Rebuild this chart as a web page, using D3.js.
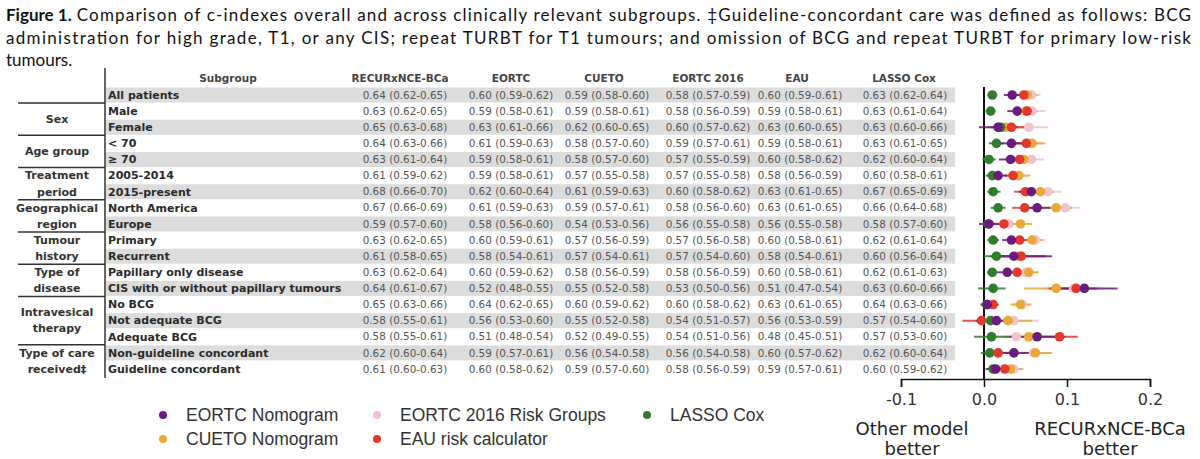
<!DOCTYPE html>
<html><head><meta charset="utf-8">
<script src="https://cdn.jsdelivr.net/npm/d3@7"></script>
<style>body{margin:0;background:#fff;} svg{display:block;}</style>
</head><body><svg id="chart" width="1200" height="459"></svg>
<script>
// ---------- DATA ----------
const titleBold = "Figure 1.";
const titleLines = [
  "Comparison of c-indexes overall and across clinically relevant subgroups. \u2021Guideline-concordant care was defined as follows: BCG",
  "administration for high grade, T1, or any CIS; repeat TURBT for T1 tumours; and omission of BCG and repeat TURBT for primary low-risk",
  "tumours."
];
const subgroups = ["All patients","Male","Female","< 70","\u2265 70","2005-2014","2015-present","North America","Europe","Primary","Recurrent","Papillary only disease","CIS with or without papillary tumours","No BCG","Not adequate BCG","Adequate BCG","Non-guideline concordant","Guideline concordant"];
const groupNames = ["", "Sex", "Age group", "Treatment|period", "Geographical|region", "Tumour|history", "Type of|disease", "Intravesical|therapy", "Type of care|received\u2021"];
const groupSizes = [1, 2, 2, 2, 2, 2, 2, 3, 2];
const tableHeaders = ["RECURxNCE-BCa","EORTC","CUETO","EORTC 2016","EAU","LASSO Cox"];

// c-index [estimate, lower, upper]
const cRecur = [[0.64,0.62,0.65],[0.63,0.62,0.65],[0.65,0.63,0.68],[0.64,0.63,0.66],[0.63,0.61,0.64],[0.61,0.59,0.62],[0.68,0.66,0.70],[0.67,0.66,0.69],[0.59,0.57,0.60],[0.63,0.62,0.65],[0.61,0.58,0.65],[0.63,0.62,0.64],[0.64,0.61,0.67],[0.65,0.63,0.66],[0.58,0.55,0.61],[0.58,0.55,0.61],[0.62,0.60,0.64],[0.61,0.60,0.63]];
const cEORTC = [[0.60,0.59,0.62],[0.59,0.58,0.61],[0.63,0.61,0.66],[0.61,0.59,0.63],[0.59,0.58,0.61],[0.59,0.58,0.61],[0.62,0.60,0.64],[0.61,0.59,0.63],[0.58,0.56,0.60],[0.60,0.59,0.61],[0.58,0.54,0.61],[0.60,0.59,0.62],[0.52,0.48,0.55],[0.64,0.62,0.65],[0.56,0.53,0.60],[0.51,0.48,0.54],[0.59,0.57,0.61],[0.60,0.58,0.62]];
const cCUETO = [[0.59,0.58,0.60],[0.59,0.58,0.61],[0.62,0.60,0.65],[0.58,0.57,0.60],[0.58,0.57,0.60],[0.57,0.55,0.58],[0.61,0.59,0.63],[0.59,0.57,0.61],[0.54,0.53,0.56],[0.57,0.56,0.59],[0.57,0.54,0.61],[0.58,0.56,0.59],[0.55,0.52,0.58],[0.60,0.59,0.62],[0.55,0.52,0.58],[0.52,0.49,0.55],[0.56,0.54,0.58],[0.59,0.57,0.60]];
const cEORTC2016 = [[0.58,0.57,0.59],[0.58,0.56,0.59],[0.60,0.57,0.62],[0.59,0.57,0.61],[0.57,0.55,0.59],[0.57,0.55,0.58],[0.60,0.58,0.62],[0.58,0.56,0.60],[0.56,0.55,0.58],[0.57,0.56,0.58],[0.57,0.54,0.60],[0.58,0.56,0.59],[0.53,0.50,0.56],[0.60,0.58,0.62],[0.54,0.51,0.57],[0.54,0.51,0.56],[0.56,0.54,0.58],[0.58,0.56,0.59]];
const cEAU = [[0.60,0.59,0.61],[0.59,0.58,0.61],[0.63,0.60,0.65],[0.59,0.58,0.61],[0.60,0.58,0.62],[0.58,0.56,0.59],[0.63,0.61,0.65],[0.63,0.61,0.65],[0.56,0.55,0.58],[0.60,0.58,0.61],[0.58,0.54,0.61],[0.60,0.58,0.61],[0.51,0.47,0.54],[0.63,0.61,0.65],[0.56,0.53,0.59],[0.48,0.45,0.51],[0.60,0.57,0.62],[0.59,0.57,0.61]];
const cLASSO = [[0.63,0.62,0.64],[0.63,0.61,0.64],[0.63,0.60,0.66],[0.63,0.61,0.65],[0.62,0.60,0.64],[0.60,0.58,0.61],[0.67,0.65,0.69],[0.66,0.64,0.68],[0.58,0.57,0.60],[0.62,0.61,0.64],[0.60,0.56,0.64],[0.62,0.61,0.63],[0.63,0.60,0.66],[0.64,0.63,0.66],[0.57,0.54,0.60],[0.57,0.53,0.60],[0.62,0.60,0.64],[0.60,0.59,0.62]];

// difference in c-index (RECURxNCE-BCa minus other model) [estimate, lower, upper]
const dEORTC = [[0.034,0.024,0.045],[0.040,0.028,0.052],[0.017,-0.006,0.040],[0.033,0.018,0.048],[0.032,0.018,0.046],[0.017,0.006,0.028],[0.057,0.042,0.072],[0.064,0.048,0.080],[0.006,-0.006,0.018],[0.033,0.022,0.044],[0.036,0.008,0.082],[0.028,0.016,0.040],[0.121,0.082,0.161],[0.004,-0.004,0.012],[0.015,-0.010,0.040],[0.064,0.030,0.098],[0.036,0.018,0.054],[0.014,0.002,0.026]];
const dCUETO = [[0.052,0.040,0.064],[0.050,0.038,0.062],[0.026,0.004,0.048],[0.058,0.044,0.074],[0.048,0.034,0.062],[0.042,0.030,0.056],[0.068,0.052,0.084],[0.087,0.068,0.106],[0.044,0.030,0.058],[0.058,0.046,0.070],[0.042,0.012,0.072],[0.054,0.040,0.066],[0.087,0.048,0.126],[0.044,0.032,0.056],[0.029,0.000,0.058],[0.054,0.024,0.084],[0.062,0.042,0.082],[0.032,0.018,0.046]];
const dEORTC2016 = [[0.057,0.046,0.068],[0.058,0.044,0.074],[0.054,0.030,0.077],[0.055,0.038,0.072],[0.057,0.042,0.072],[0.040,0.028,0.052],[0.077,0.060,0.094],[0.098,0.078,0.116],[0.030,0.018,0.042],[0.062,0.050,0.074],[0.044,0.014,0.074],[0.050,0.038,0.062],[0.108,0.072,0.144],[0.046,0.034,0.058],[0.036,0.006,0.066],[0.039,0.010,0.068],[0.060,0.040,0.080],[0.036,0.024,0.048]];
const dEAU = [[0.048,0.038,0.058],[0.052,0.040,0.064],[0.033,0.012,0.054],[0.051,0.038,0.064],[0.043,0.030,0.056],[0.035,0.024,0.046],[0.050,0.036,0.064],[0.049,0.034,0.064],[0.024,0.012,0.036],[0.043,0.032,0.054],[0.045,0.016,0.074],[0.040,0.028,0.052],[0.111,0.078,0.136],[0.011,0.002,0.018],[-0.003,-0.026,0.022],[0.091,0.062,0.113],[0.017,0.002,0.032],[0.025,0.014,0.036]];
const dLASSO = [[0.010,0.004,0.016],[0.008,0.002,0.014],[0.020,0.008,0.032],[0.015,0.006,0.024],[0.006,-0.002,0.014],[0.010,0.002,0.018],[0.011,0.004,0.020],[0.017,0.008,0.026],[0.005,-0.002,0.012],[0.011,0.004,0.018],[0.015,0.000,0.030],[0.010,0.004,0.016],[0.011,-0.007,0.026],[0.003,-0.004,0.010],[0.008,-0.004,0.020],[0.009,-0.012,0.030],[0.007,-0.004,0.018],[0.011,0.004,0.018]];

const legendNames = ["EORTC Nomogram","CUETO Nomogram","EORTC 2016 Risk Groups","EAU risk calculator","LASSO Cox"];
const legendColors = ["#6b1b7f","#eba83a","#f2c2cd","#e2392d","#2f7e2c"];
const forestTicks = [-0.1, 0, 0.1, 0.2];
const betterLabels = [["Other model","better"],["RECURxNCE-BCa","better"]];

// ---------- DRAW ----------
const svg = d3.select("#chart");
const fmt = d3.format(".2f");

// title
const titleFont = "Lato, 'Open Sans', sans-serif";
const tb = svg.append("text").attr("x", 6).attr("y", 21)
  .attr("font-family", titleFont).attr("font-size", 17).attr("font-weight", "bold").attr("fill", "#111")
  .text(titleBold);
const bw = tb.node().getComputedTextLength();
const l1x = 6 + bw + 5;
svg.append("text").attr("x", l1x).attr("y", 21)
  .attr("font-family", titleFont).attr("font-size", 17).attr("fill", "#111")
  .attr("textLength", 1191 - l1x).attr("lengthAdjust", "spacing").text(titleLines[0]);
svg.append("text").attr("x", 6).attr("y", 44)
  .attr("font-family", titleFont).attr("font-size", 17).attr("fill", "#111")
  .attr("textLength", 1185).attr("lengthAdjust", "spacing").text(titleLines[1]);
svg.append("text").attr("x", 6).attr("y", 66)
  .attr("font-family", titleFont).attr("font-size", 17).attr("fill", "#111").text(titleLines[2]);

// row scale
const y = d3.scalePoint().domain(d3.range(subgroups.length)).range([95, 369]);
const step = y.step();

// table bands
const tableFont = "'DejaVu Sans', Verdana, sans-serif";
const tbl = svg.append("g");
tbl.selectAll("rect.band").data(subgroups.map((d, i) => i).filter(i => i % 2 === 0))
  .join("rect").attr("x", 106).attr("width", 849)
  .attr("y", i => y(i) - 7.5).attr("height", 15).attr("fill", "#dcdcdc");

// header
const headerY = 78;
tbl.append("text").attr("x", 228).attr("y", headerY).attr("dy", "0.35em")
  .attr("text-anchor", "middle").attr("font-family", tableFont).attr("font-size", 10.5)
  .attr("font-weight", "bold").attr("fill", "#444").text("Subgroup");
const colCenters = [405, 511, 607, 708, 800, 905];
const headerCenters = [400, 511, 604, 708, 797, 904];
tbl.selectAll("text.hdr").data(tableHeaders).join("text")
  .attr("x", (d, i) => headerCenters[i]).attr("y", headerY).attr("dy", "0.35em")
  .attr("text-anchor", "middle").attr("font-family", tableFont).attr("font-size", 10.5)
  .attr("font-weight", "bold").attr("fill", "#444").text(d => d);

// subgroup labels
tbl.selectAll("text.sg").data(subgroups).join("text")
  .attr("x", 108).attr("y", (d, i) => y(i)).attr("dy", "0.35em")
  .attr("font-family", tableFont).attr("font-size", 11).attr("font-weight", "bold")
  .attr("fill", "#2a2a2a").text(d => d);

// values
const tableCols = [cRecur, cEORTC, cCUETO, cEORTC2016, cEAU, cLASSO];
tableCols.forEach((col, c) => {
  tbl.selectAll("text.v" + c).data(col).join("text")
    .attr("x", colCenters[c]).attr("y", (d, i) => y(i)).attr("dy", "0.35em")
    .attr("text-anchor", "middle").attr("font-family", tableFont).attr("font-size", 10.4)
    .attr("fill", "#555").text(d => `${fmt(d[0])} (${fmt(d[1])}-${fmt(d[2])})`);
});

// group labels and separators
let start = 0;
const groupG = svg.append("g");
groupSizes.forEach((n, g) => {
  const first = start, last = start + n - 1;
  const lines = groupNames[g] ? groupNames[g].split("|") : [];
  const mid = (y(first) + y(last)) / 2;
  const lh = n === 3 ? 16 : step;
  lines.forEach((ln, k) => {
    groupG.append("text").attr("x", 57)
      .attr("y", mid + (k - (lines.length - 1) / 2) * lh).attr("dy", "0.35em")
      .attr("text-anchor", "middle").attr("font-family", tableFont).attr("font-size", 11)
      .attr("font-weight", "bold").attr("fill", "#333").text(ln);
  });
  if (g < groupSizes.length - 1) {
    const sy = y(last) + step / 2;
    groupG.append("line").attr("x1", 18).attr("x2", 105).attr("y1", sy).attr("y2", sy)
      .attr("stroke", "#333").attr("stroke-width", 1.5);
  }
  start += n;
});
groupG.append("line").attr("x1", 105).attr("x2", 105).attr("y1", 68).attr("y2", 378)
  .attr("stroke", "#333").attr("stroke-width", 1.5);

// forest plot
const x = d3.scaleLinear().domain([-0.1, 0.2]).range([901, 1150]);
const fg = svg.append("g");
fg.append("line").attr("x1", x(0)).attr("x2", x(0)).attr("y1", 87).attr("y2", 379)
  .attr("stroke", "#111").attr("stroke-width", 2);
const axisG = fg.append("g").attr("transform", "translate(0,379)")
  .call(d3.axisBottom(x).tickValues(forestTicks).tickFormat(d => d.toFixed(1)).tickSize(8).tickPadding(7));
axisG.select(".domain").attr("stroke", "#111").attr("stroke-width", 1.5);
axisG.selectAll(".tick line").attr("stroke", "#111").attr("stroke-width", 1.5);
axisG.selectAll(".tick text").attr("font-family", tableFont).attr("font-size", 16).attr("fill", "#333");

const forestSeries = [dEORTC2016, dCUETO, dLASSO, dEAU, dEORTC];
const forestColors = [legendColors[2], legendColors[1], legendColors[4], legendColors[3], legendColors[0]];
forestSeries.forEach((s, k) => {
  fg.selectAll("line.ci" + k).data(s).join("line")
    .attr("x1", d => x(d[1])).attr("x2", d => x(d[2]))
    .attr("y1", (d, i) => y(i)).attr("y2", (d, i) => y(i))
    .attr("stroke", forestColors[k]).attr("stroke-width", 2).attr("opacity", 0.85);
});
forestSeries.forEach((s, k) => {
  fg.selectAll("circle.pt" + k).data(s).join("circle")
    .attr("cx", d => x(d[0])).attr("cy", (d, i) => y(i)).attr("r", 4.8)
    .attr("fill", forestColors[k]);
});

// better labels
const betterX = [912, 1110];
betterLabels.forEach((lines, k) => {
  lines.forEach((ln, j) => {
    fg.append("text").attr("x", betterX[k]).attr("y", 435 + j * 20)
      .attr("text-anchor", "middle").attr("font-family", tableFont).attr("font-size", 18)
      .attr("fill", "#222").text(ln);
  });
});

// legend
const legPos = [[163, 415], [163, 439], [377, 415], [377, 439], [647, 415]];
const lg = svg.append("g");
legendNames.forEach((name, i) => {
  lg.append("circle").attr("cx", legPos[i][0]).attr("cy", legPos[i][1]).attr("r", 4)
    .attr("fill", legendColors[i]);
  lg.append("text").attr("x", legPos[i][0] + 23).attr("y", legPos[i][1]).attr("dy", "0.35em")
    .attr("font-family", "'Liberation Sans', Arial, sans-serif").attr("font-size", 17.5)
    .attr("fill", "#333").text(name);
});
</script>
</body></html>
